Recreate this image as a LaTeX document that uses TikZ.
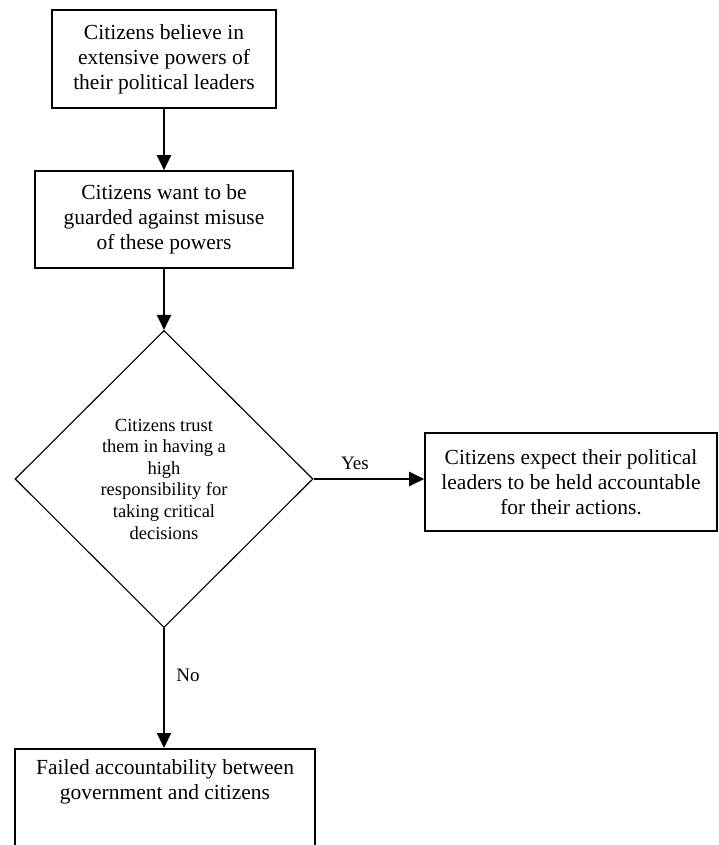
\documentclass[tikz,border=0pt]{standalone}
\usepackage{fontspec}
\setmainfont{Liberation Serif}
\usetikzlibrary{arrows.meta,shapes.geometric}
\begin{document}
\begin{tikzpicture}[x=1pt,y=-1pt,
  boxtxt/.style={font=\fontsize{21.5}{25}\selectfont, align=center},
  stepbox/.style={draw, line width=1.6pt, boxtxt, inner sep=0pt},
  decision/.style={draw, diamond, line width=1.1pt, inner sep=0pt,
    font=\fontsize{18.5}{21.6}\selectfont, align=center},
  arr/.style={line width=2pt, -{Triangle[length=15pt,width=14pt]}},
  lbl/.style={font=\fontsize{19}{22}\selectfont, inner sep=0pt}]
\useasboundingbox (0,0) rectangle (718,845);
\clip (0,0) rectangle (718,845);

% process steps
\node[stepbox, minimum width=224pt, minimum height=98pt] (b1) at (164,59)
  {Citizens believe in\\extensive powers of\\their political leaders};
\node[stepbox, minimum width=258pt, minimum height=97pt] (b2) at (164,219.5)
  {Citizens want to be\\guarded against misuse\\of these powers};

% decision
\node[decision, minimum width=298pt, minimum height=297pt] (d) at (164,479)
  {Citizens trust\\them in having a\\high\\responsibility for\\taking critical\\decisions};

% outcomes
\node[stepbox, minimum width=292pt, minimum height=98pt] (b3) at (571,482)
  {Citizens expect their political\\leaders to be held accountable\\for their actions.};
\node[draw, line width=1.6pt, inner sep=0pt, minimum width=300pt,
  minimum height=130pt, anchor=north] (b4) at (165,748) {};
\node[boxtxt, inner sep=0pt, anchor=north] (b4t) at (165,759)
  {Failed accountability between\\government and citizens};

% connectors
\draw[arr] (b1) -- (b2);
\draw[arr] (b2) -- (d);
\draw[arr] (d.east) -- (b3.west |- d.east);
\draw[arr] (d.south) -- (d.south |- b4.north);

% branch labels
\node[lbl] (yes) at (355,463) {Yes};
\node[lbl] (no) at (188,675) {No};
\end{tikzpicture}
\end{document}
